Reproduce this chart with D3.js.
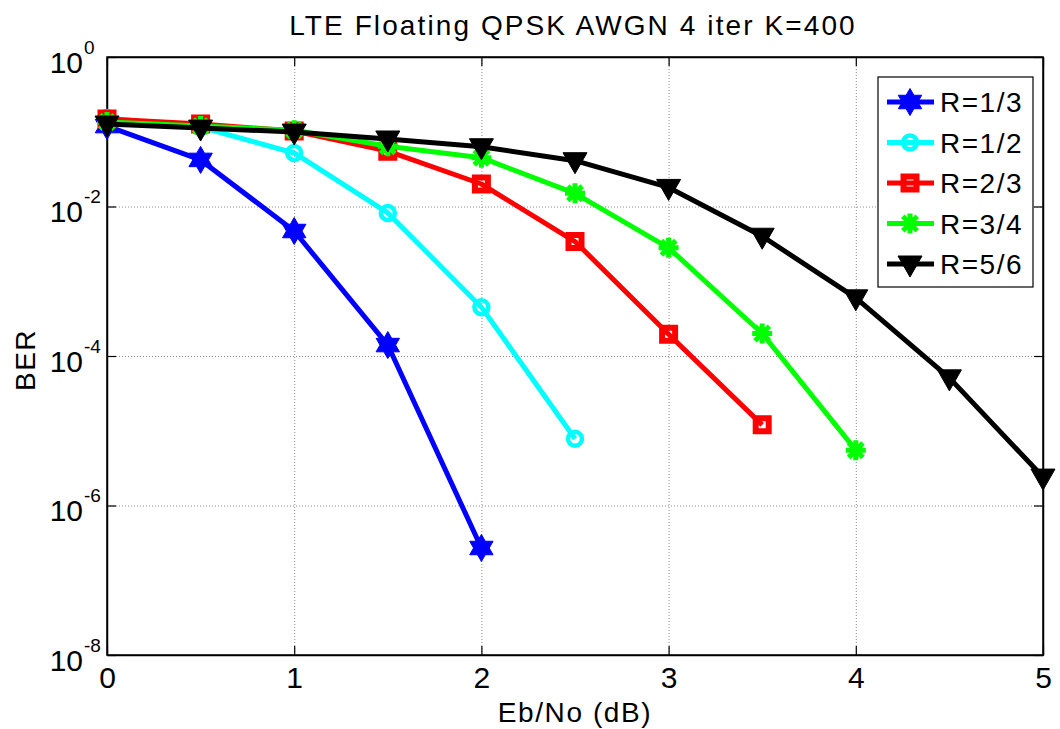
<!DOCTYPE html>
<html>
<head>
<meta charset="utf-8">
<script src="https://cdn.jsdelivr.net/npm/d3@7"></script>
<style>
  body { margin: 0; background: #fff; }
  svg { display: block; font-family: "Liberation Sans", Arial, sans-serif; }
</style>
</head>
<body>
<div id="chart"></div>
<script>
// Eb/No values (dB)
const ebno = [0, 0.5, 1, 1.5, 2, 2.5, 3, 3.5, 4, 4.5, 5];

// BER per code rate
const berR13 = [0.119, 0.042, 0.0047, 1.4e-4, 2.7e-7];
const berR12 = [0.153, 0.115, 0.052, 0.0082, 4.5e-4, 7.8e-6];
const berR23 = [0.148, 0.127, 0.102, 0.055, 0.020, 0.0034, 1.96e-4, 1.2e-5];
const berR34 = [0.135, 0.119, 0.105, 0.064, 0.045, 0.015, 0.0028, 2.0e-4, 5.5e-6];
const berR56 = [0.127, 0.112, 0.099, 0.080, 0.063, 0.041, 0.018, 0.0040, 6.0e-4, 5.1e-5, 2.4e-6];

const seriesNames = ["R=1/3", "R=1/2", "R=2/3", "R=3/4", "R=5/6"];
const seriesColors = ["#0000ff", "#00ffff", "#ff0000", "#00ff00", "#000000"];
const seriesMarkers = ["hexagram", "circle", "square", "asterisk", "triangleDown"];
const seriesValues = [berR13, berR12, berR23, berR34, berR56];

const xTicks = [0, 1, 2, 3, 4, 5];
const yTicks = [1, 1e-2, 1e-4, 1e-6, 1e-8];
const yTickExp = ["0", "-2", "-4", "-6", "-8"];

const width = 1060, height = 729;
const margin = { left: 107, right: 17, top: 57, bottom: 74 };
const innerW = width - margin.left - margin.right;
const innerH = height - margin.top - margin.bottom;

const svg = d3.select("#chart").append("svg")
  .attr("width", width)
  .attr("height", height);

const x = d3.scaleLinear().domain([0, 5]).range([margin.left, width - margin.right]);
const y = d3.scaleLog().domain([1e-8, 1]).range([height - margin.bottom, margin.top]);

// grid
svg.append("g")
  .attr("transform", `translate(0,${height - margin.bottom})`)
  .call(d3.axisBottom(x).tickValues([1, 2, 3, 4]).tickSize(-innerH).tickFormat(""))
  .call(g => g.select(".domain").remove())
  .call(g => g.selectAll("line").attr("stroke", "#8c8c8c").attr("stroke-dasharray", "1,2"));

svg.append("g")
  .attr("transform", `translate(${margin.left},0)`)
  .call(d3.axisLeft(y).tickValues([1e-2, 1e-4, 1e-6]).tickSize(-innerW).tickFormat(""))
  .call(g => g.select(".domain").remove())
  .call(g => g.selectAll("line").attr("stroke", "#8c8c8c").attr("stroke-dasharray", "1,2"));

// axes (ticks point inward)
const xAxis = svg.append("g")
  .attr("transform", `translate(0,${height - margin.bottom})`)
  .call(d3.axisBottom(x).tickValues(xTicks).tickFormat(d3.format("d"))
    .tickSizeInner(-9).tickSizeOuter(0).tickPadding(12));
xAxis.selectAll("text")
  .attr("font-size", 30)
  .attr("font-family", "Liberation Sans, Arial, sans-serif")
  .attr("fill", "#000");

svg.append("g")
  .attr("transform", `translate(0,${margin.top})`)
  .call(d3.axisTop(x).tickValues(xTicks).tickSizeInner(-9).tickSizeOuter(0).tickFormat(""));

const yAxis = svg.append("g")
  .attr("transform", `translate(${margin.left},0)`)
  .call(d3.axisLeft(y).tickValues(yTicks).tickSizeInner(-9).tickSizeOuter(0).tickFormat(""));

yAxis.selectAll(".tick").each(function(d, i) {
  const t = d3.select(this).append("text")
    .attr("fill", "#000")
    .attr("text-anchor", "end")
    .attr("font-family", "Liberation Sans, Arial, sans-serif");
  t.append("tspan").attr("x", -24).attr("y", 15).attr("font-size", 30).text("10");
  t.append("tspan").attr("x", -23).attr("y", -4).attr("font-size", 19)
    .attr("text-anchor", "start").text(yTickExp[i]);
});

svg.append("g")
  .attr("transform", `translate(${width - margin.right},0)`)
  .call(d3.axisRight(y).tickValues(yTicks).tickSizeInner(-9).tickSizeOuter(0).tickFormat(""));

svg.selectAll(".domain").attr("stroke", "#000").attr("stroke-width", 1.5);
svg.selectAll(".tick line").filter(function() { return !this.getAttribute("stroke-dasharray"); })
  .attr("stroke", "#000").attr("stroke-width", 1.2);

// box
svg.append("rect")
  .attr("x", margin.left).attr("y", margin.top)
  .attr("width", innerW).attr("height", innerH)
  .attr("fill", "none").attr("stroke", "#000").attr("stroke-width", 1.5);

// marker shapes
function markerPath(type) {
  if (type === "hexagram") {
    const R = 13.5, r = R / Math.sqrt(3);
    const pts = d3.range(12).map(k => {
      const a = -Math.PI / 2 + k * Math.PI / 6;
      const rad = k % 2 === 0 ? R : r;
      return [rad * Math.cos(a), rad * Math.sin(a)];
    });
    return "M" + pts.join("L") + "Z";
  }
  if (type === "circle") return d3.symbol(d3.symbolCircle, Math.PI * 7 * 7)();
  if (type === "square") return "M-6.5,-6.5H6.5V6.5H-6.5Z";
  if (type === "asterisk") {
    const s = 10, d = s * 0.72;
    return `M${-s},0H${s}M0,${-s}V${s}M${-d},${-d}L${d},${d}M${-d},${d}L${d},${-d}`;
  }
  // triangle pointing down
  return "M-12,-8L12,-8L0,13Z";
}

function drawMarker(sel, type, color) {
  const p = sel.append("path").attr("d", markerPath(type));
  if (type === "hexagram" || type === "triangleDown") {
    p.attr("fill", color).attr("stroke", color).attr("stroke-width", 1);
  } else if (type === "asterisk") {
    p.attr("fill", "none").attr("stroke", color).attr("stroke-width", 5);
  } else if (type === "square") {
    p.attr("fill", "none").attr("stroke", color).attr("stroke-width", 6);
  } else {
    p.attr("fill", "none").attr("stroke", color).attr("stroke-width", 4.5);
  }
}

const line = d3.line().x(d => x(d[0])).y(d => y(d[1]));

seriesValues.forEach((vals, i) => {
  const pts = vals.map((v, j) => [ebno[j], v]);
  const g = svg.append("g");
  g.append("path")
    .datum(pts)
    .attr("d", line)
    .attr("fill", "none")
    .attr("stroke", seriesColors[i])
    .attr("stroke-width", 5)
    .attr("stroke-linejoin", "round");
  pts.forEach(p => {
    const m = g.append("g").attr("transform", `translate(${x(p[0])},${y(p[1])})`);
    drawMarker(m, seriesMarkers[i], seriesColors[i]);
  });
});

// legend
const legend = svg.append("g").attr("transform", "translate(878,77)");
legend.append("rect")
  .attr("width", 155).attr("height", 210)
  .attr("fill", "#fff").attr("stroke", "#000").attr("stroke-width", 1.2);
seriesNames.forEach((name, i) => {
  const ly = 25 + i * 40.5;
  legend.append("line")
    .attr("x1", 9).attr("x2", 56).attr("y1", ly).attr("y2", ly)
    .attr("stroke", seriesColors[i]).attr("stroke-width", 5);
  const m = legend.append("g").attr("transform", `translate(32,${ly})`);
  drawMarker(m, seriesMarkers[i], seriesColors[i]);
  legend.append("text")
    .attr("x", 62).attr("y", ly + 10)
    .attr("font-size", 28).attr("letter-spacing", 1.5)
    .text(name);
});

// title and labels
svg.append("text")
  .attr("x", 573).attr("y", 35)
  .attr("text-anchor", "middle")
  .attr("font-size", 28).attr("letter-spacing", 2.1)
  .text("LTE Floating QPSK AWGN 4 iter K=400");

svg.append("text")
  .attr("x", 575).attr("y", 722)
  .attr("text-anchor", "middle")
  .attr("font-size", 28).attr("letter-spacing", 1.6)
  .text("Eb/No (dB)");

svg.append("text")
  .attr("transform", "translate(35,360) rotate(-90)")
  .attr("text-anchor", "middle")
  .attr("font-size", 28).attr("letter-spacing", 1.5)
  .text("BER");
</script>
</body>
</html>
